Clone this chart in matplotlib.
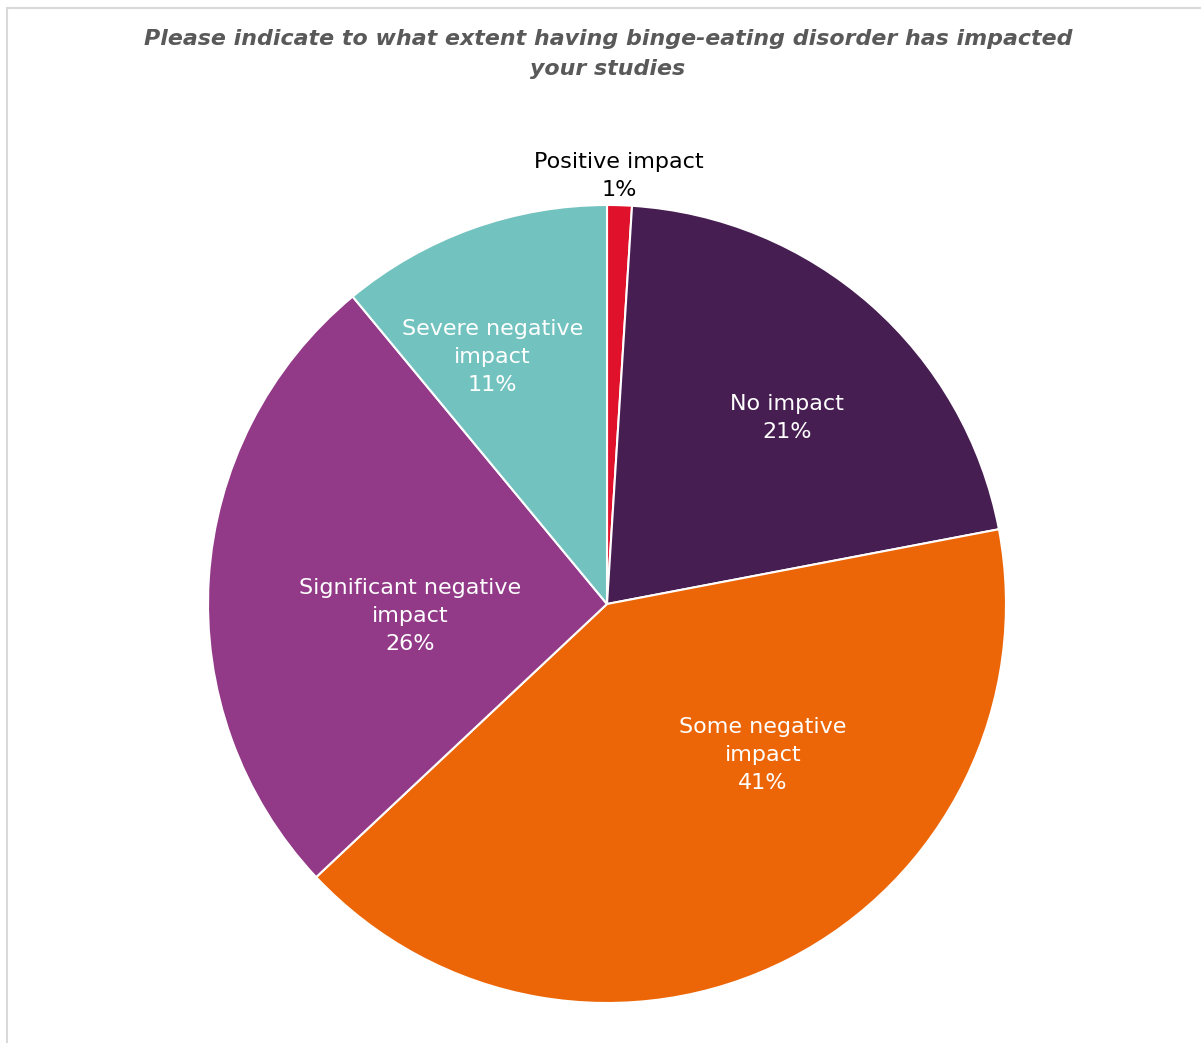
import matplotlib
matplotlib.use("Agg")
import matplotlib.pyplot as plt
import numpy as np
from matplotlib.patches import Rectangle

plt.rcParams['font.family'] = ['DejaVu Sans']

# Survey responses (share of respondents, %)
categories = ["Positive impact", "No impact", "Some negative impact",
              "Significant negative impact", "Severe negative impact"]
display_labels = ["Positive impact", "No impact", "Some negative\nimpact",
                  "Significant negative\nimpact", "Severe negative\nimpact"]
values = [1, 21, 41, 26, 11]
colors = ["#E0112B", "#461E51", "#EC6608", "#923A88", "#72C3BF"]
# label anchor in polar form (degrees, fraction of radius)
label_angle = [88.4, 45.9, -44.1, 183.5, 114.9]
label_radius = [1.073, 0.649, 0.544, 0.495, 0.683]
text_colors = ["#000000", "white", "white", "white", "white"]

title = "Please indicate to what extent having binge-eating disorder has impacted\nyour studies"

W, H = 1201, 1043
cx, cy, R = 607, 604, 399

fig = plt.figure(figsize=(W / 100, H / 100), dpi=100)
ax = fig.add_axes([0, 0, 1, 1])
ax.axis("off")

# light frame around the chart area
fig.patches.append(Rectangle((7 / W, -0.01), 1.02, (H - 8) / H + 0.01,
                             transform=fig.transFigure, fill=False,
                             edgecolor="#D9D9D9", linewidth=1.5))

wedges, _ = ax.pie(values, colors=colors, startangle=90, counterclock=False,
                   radius=1.0, center=(0, 0),
                   wedgeprops=dict(edgecolor="white", linewidth=1.5))
ax.set_xlim(-cx / R, (W - cx) / R)
ax.set_ylim(-(H - cy) / R, cy / R)
ax.set_aspect("auto")

for lab, v, ang, rr, tc in zip(display_labels, values, label_angle,
                               label_radius, text_colors):
    a = np.deg2rad(ang)
    ax.text(rr * np.cos(a), rr * np.sin(a), f"{lab}\n{v}%", ha="center",
            va="center", color=tc, fontsize=16, linespacing=1.5)

fig.text(608 / W, 1 - 54 / H, title, ha="center", va="center",
         fontsize=15.9, fontweight="bold", fontstyle="italic",
         color="#595959", linespacing=1.65)

fig.savefig("out.png", dpi=100)
